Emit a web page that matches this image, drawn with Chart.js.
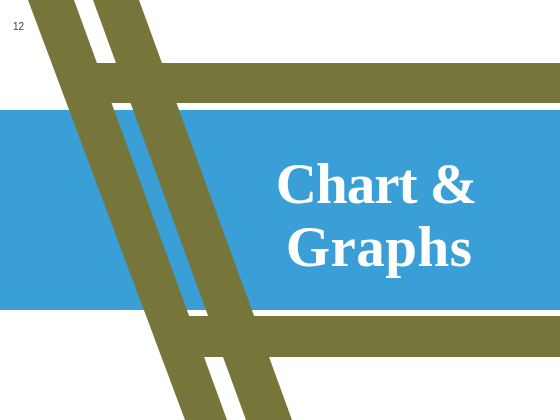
<!DOCTYPE html>
<html>
<head>
<meta charset="utf-8">
<script src="https://cdn.jsdelivr.net/npm/chart.js@4"></script>
<style>
  body { margin: 0; background: #fff; }
  #slide { position: relative; width: 560px; height: 420px; overflow: hidden; }
  #pageNumber {
    position: absolute; left: 13px; top: 22px;
    font: 10px/10px "Liberation Sans", Arial, sans-serif; color: #404040;
  }
  .titleLine {
    position: absolute; width: 400px;
    text-align: center; color: #fff; white-space: nowrap;
    font: bold 57px/63px "Liberation Serif", "Times New Roman", serif;
  }
  #titleOne { left: 176px; top: 152px; letter-spacing: -1px; }
  #titleTwo { left: 179px; top: 215px; letter-spacing: 0.5px; }
</style>
</head>
<body>
<div id="slide">
  <canvas id="slideChart"></canvas>
  <div id="pageNumber">12</div>
  <div class="titleLine" id="titleOne">Chart &amp;</div>
  <div class="titleLine" id="titleTwo">Graphs</div>
</div>
<script>
// Rows (y, from top) where the slanted stripes are measured
const stripeRows = [0, 420];
// x of each stripe edge at those rows
const stripeOneLeft = [28, 185];
const stripeOneRight = [74, 227];
const stripeTwoLeft = [93, 246];
const stripeTwoRight = [139, 292];

// Horizontal bands: top and bottom row, plus left and right x
const topBandRows = [63, 103];
const topBandCols = [80, 560];
const bottomBandRows = [316, 357];
const bottomBandCols = [175, 560];
const blueBandRows = [110, 310];
const blueBandCols = [0, 560];

const olive = "#76763a";
const blue = "#3a9fd6";

// Build one edge of a shape as points along the rows
function edge(xs, rows) {
  return rows.map((y, i) => ({ x: xs[i], y: y }));
}

// A filled shape is two edge datasets, the first filling to the next
function shape(leftXs, rightXs, rows, color) {
  const base = { borderWidth: 0, pointRadius: 0, backgroundColor: color, borderColor: color };
  return [
    Object.assign({ data: edge(leftXs, rows), fill: "+1" }, base),
    Object.assign({ data: edge(rightXs, rows), fill: false }, base)
  ];
}

// A straight band keeps the same x on both rows
function band(cols, rows, color) {
  return shape([cols[0], cols[0]], [cols[1], cols[1]], rows, color);
}

// Datasets earlier in the list are painted on top
const datasets = [
  ...shape(stripeOneLeft, stripeOneRight, stripeRows, olive),
  ...shape(stripeTwoLeft, stripeTwoRight, stripeRows, olive),
  ...band(topBandCols, topBandRows, olive),
  ...band(bottomBandCols, bottomBandRows, olive),
  ...band(blueBandCols, blueBandRows, blue)
];

const canvas = document.querySelector("#slideChart");
canvas.style.width = "560px";
canvas.style.height = "420px";

new Chart(canvas, {
  type: "line",
  data: { datasets },
  options: {
    indexAxis: "y",
    responsive: false,
    animation: false,
    layout: { padding: 0 },
    plugins: { legend: { display: false }, tooltip: { enabled: false } },
    scales: {
      x: { type: "linear", min: 0, max: 560, display: false },
      y: { type: "linear", min: 0, max: 420, reverse: true, display: false }
    }
  }
});
</script>
</body>
</html>
